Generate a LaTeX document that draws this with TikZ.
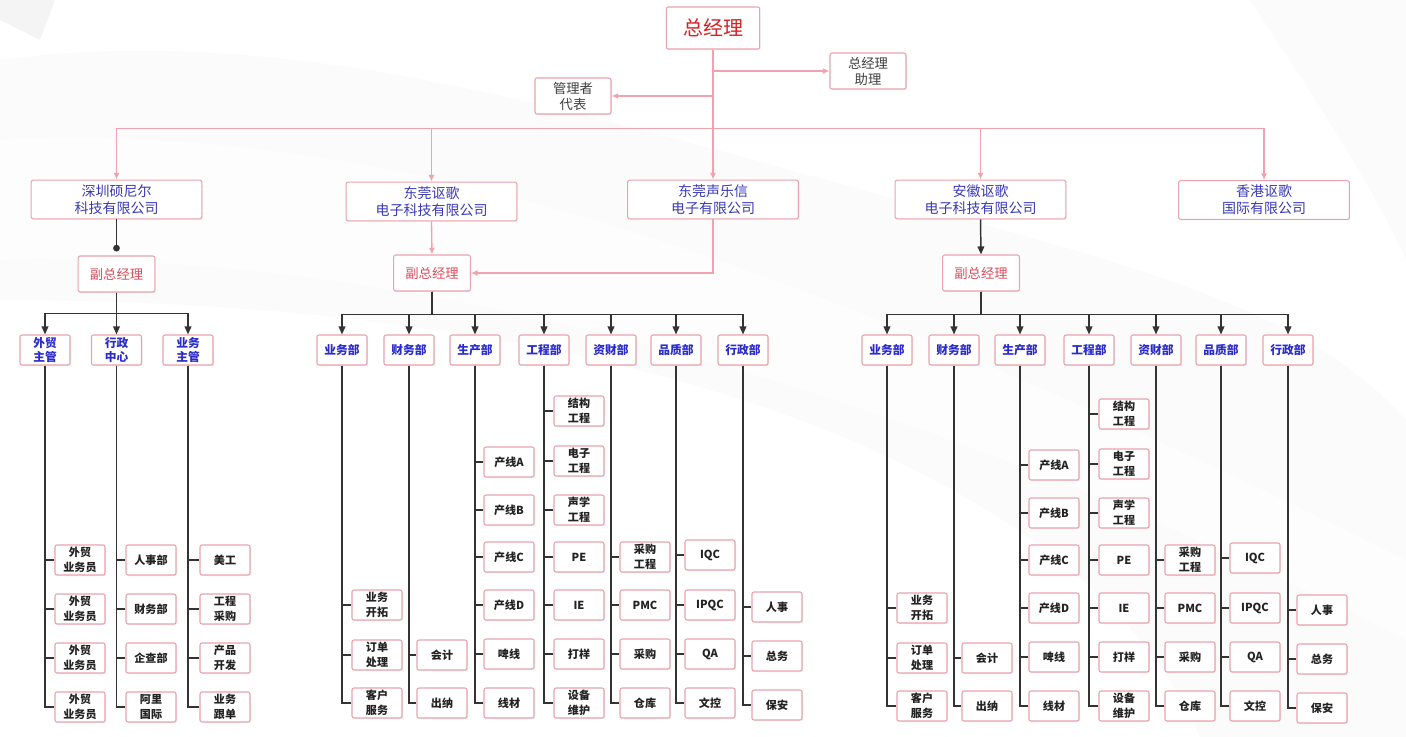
\documentclass[tikz,border=0pt]{standalone}
\usepackage{fontspec}
\newfontfamily\cjk{Noto Sans CJK SC}
\usetikzlibrary{arrows.meta,shadows}
\definecolor{pkline}{HTML}{F2A2AC}
\definecolor{pkbord}{HTML}{E9A3B0}
\definecolor{bluet}{HTML}{3A3AB8}
\definecolor{bluedept}{HTML}{2B2BCC}
\definecolor{vpred}{HTML}{D64F5C}
\definecolor{gmred}{HTML}{D42222}
\definecolor{greyt}{HTML}{404040}
\definecolor{subt}{HTML}{222222}
\definecolor{blkline}{HTML}{333333}
\tikzset{
  box/.style={draw=pkbord, line width=0.8pt, fill=white, rounded corners=1.5pt, align=center, inner sep=0pt,
     drop shadow={opacity=0.12, shadow xshift=0.8pt, shadow yshift=-0.8pt}},
  gmbox/.style={box, minimum width=70pt, minimum height=31.5pt, text=gmred, font=\cjk\fontsize{15}{17}\selectfont},
  grbox/.style={box, minimum width=57pt, minimum height=27pt, text=greyt, font=\cjk\fontsize{10}{12}\selectfont},
  cobox/.style={box, minimum width=128pt, minimum height=29pt, text=bluet, font=\cjk\fontsize{10.5}{12.5}\selectfont},
  vpbox/.style={box, minimum width=57.5pt, minimum height=27pt, text=vpred, font=\cjk\fontsize{10}{12}\selectfont},
  dept/.style={box, minimum width=37.5pt, minimum height=22.5pt, text=bluedept, font=\cjk\bfseries\fontsize{8.8}{10.5}\selectfont},
  sub/.style={box, minimum width=37.5pt, minimum height=22.5pt, text=subt, font=\cjk\bfseries\fontsize{8.3}{11}\selectfont},
  pk/.style={draw=pkline, line width=1pt, -{Latex[length=5pt,width=4.5pt]}},
  blk/.style={draw=blkline, line width=1.1pt},
  blka/.style={blk, -{Triangle[length=6pt,width=5pt]}},
}
\begin{document}
\begin{tikzpicture}[x=0.75pt,y=-0.75pt]
\useasboundingbox (0,0) rectangle (1406,737);
% background
\fill[white] (0,0) rectangle (1406,737);
\fill[gray!9] (0,0) -- (55,0) -- (40,40) -- (0,20) -- cycle;
\fill[gray!3] (0,60) .. controls (300,20) and (600,120) .. (900,200) .. controls (1100,260) and (1300,300) .. (1406,420) -- (1406,737) -- (1200,737) .. controls (1100,500) and (700,300) .. (0,300) -- cycle;
\fill[white, opacity=0.7] (0,140) .. controls (400,120) and (800,260) .. (1406,560) -- (1406,640) .. controls (900,380) and (400,250) .. (0,260) -- cycle;
\fill[gray!3] (1250,0) .. controls (1330,120) and (1380,200) .. (1406,260) -- (1406,0) -- cycle;

% top level
\node[gmbox] (gm) at (713,28) {总经理};
\node[grbox] (asst) at (868,71) {总经理\\助理};
\node[grbox] (rep) at (573,96) {管理者\\代表};

\node[cobox] (c1) at (116.5,199.5) {深圳硕尼尔\\科技有限公司};
\node[cobox] (c2) at (431.5,201.5) {东莞讴歌\\电子科技有限公司};
\node[cobox] (c3) at (713,199.5) {东莞声乐信\\电子有限公司};
\node[cobox] (c4) at (980.5,199.5) {安徽讴歌\\电子科技有限公司};
\node[cobox] (c5) at (1264,200) {香港讴歌\\国际有限公司};

\draw[pk] (gm.south |- asst.west) -- (asst.west);
\draw[pk] (gm.south |- rep.east) -- (rep.east);
\foreach \c in {c1,c2,c3,c4,c5}{
  \draw[pk] (gm.south) -- ++(0,79) -| (\c.north);
}

% ---------------- left group
\node[vpbox] (vp1) at (116.5,274) {副总经理};
\draw[blk,-{Circle[length=5pt]}] (c1.south) -- ([yshift=3pt]vp1.north);
\node[dept] (l1) at (45,350) {外贸\\主管};
\node[dept] (l2) at (116.5,350) {行政\\中心};
\node[dept] (l3) at (188,350) {业务\\主管};
\foreach \d in {l1,l2,l3}{ \draw[blka] (vp1.south) -- ++(0,21) -| (\d.north); }

\foreach \n/\t [count=\i] in {a/外贸\\业务员,b/外贸\\业务员,c/外贸\\业务员,d/外贸\\业务员}{
  \node[sub] (l1\n) at (80,{560+49*(\i-1)}) {\t};
  \draw[blk] (l1.south) |- (l1\n.west);
}
\foreach \n/\t [count=\i] in {a/人事部,b/财务部,c/企查部,d/阿里\\国际}{
  \node[sub] (l2\n) at (151,{560+49*(\i-1)}) {\t};
  \draw[blk] (l2.south) |- (l2\n.west);
}
\foreach \n/\t [count=\i] in {a/美工,b/工程\\采购,c/产品\\开发,d/业务\\跟单}{
  \node[sub] (l3\n) at (225,{560+49*(\i-1)}) {\t};
  \draw[blk] (l3.south) |- (l3\n.west);
}

% ---------------- middle & right groups
\foreach \g/\co/\vx/\dx/\dy in {m/c2/432/0/0, r/c4/981/545/3}{
  \node[vpbox] (vp\g) at (\vx,273) {副总经理};
  \foreach \k/\x/\t in {1/342/业务部,2/409/财务部,3/475/生产部,4/544/工程部,5/611/资财部,6/676/品质部,7/743/行政部}{
    \node[dept] (\g\k) at ({\x+\dx},350) {\t};
    \draw[blka] (vp\g.south) -- ++(0,23) -| (\g\k.north);
  }
  % 业务部
  \foreach \n/\y/\t in {a/605/业务\\开拓,b/655/订单\\处理,c/703/客户\\服务}{
    \node[sub] (\g1\n) at ({342+\dx+35},{\y+\dy}) {\t};
    \draw[blk] (\g1.south) |- (\g1\n.west);
  }
  % 财务部
  \foreach \n/\y/\t in {a/655/会计,b/703/出纳}{
    \node[sub] (\g2\n) at ({409+\dx+33},{\y+\dy}) {\t};
    \draw[blk] (\g2.south) |- (\g2\n.west);
  }
  % 生产部
  \foreach \n/\y/\t in {a/462/产线A,b/510/产线B,c/557/产线C,d/605/产线D,e/654/啤线,f/703/线材}{
    \node[sub] (\g3\n) at ({475+\dx+34},{\y+\dy}) {\t};
    \draw[blk] (\g3.south) |- (\g3\n.west);
  }
  % 工程部
  \foreach \n/\y/\t in {a/411/结构\\工程,b/461/电子\\工程,c/510/声学\\工程,d/557/PE,e/605/IE,f/654/打样,g/703/设备\\维护}{
    \node[sub] (\g4\n) at ({544+\dx+35},{\y+\dy}) {\t};
    \draw[blk] (\g4.south) |- (\g4\n.west);
  }
  % 资财部
  \foreach \n/\y/\t in {a/557/采购\\工程,b/605/PMC,c/654/采购,d/703/仓库}{
    \node[sub] (\g5\n) at ({611+\dx+34},{\y+\dy}) {\t};
    \draw[blk] (\g5.south) |- (\g5\n.west);
  }
  % 品质部
  \foreach \n/\y/\t in {a/555/IQC,b/605/IPQC,c/654/QA,d/703/文控}{
    \node[sub] (\g6\n) at ({676+\dx+34},{\y+\dy}) {\t};
    \draw[blk] (\g6.south) |- (\g6\n.west);
  }
  % 行政部
  \foreach \n/\y/\t in {a/607/人事,b/656/总务,c/705/保安}{
    \node[sub] (\g7\n) at ({743+\dx+34},{\y+\dy}) {\t};
    \draw[blk] (\g7.south) |- (\g7\n.west);
  }
}
\draw[pk] (c2.south) -- (vpm.north);
\draw[pk] (c3.south) |- (vpm.east);
\draw[blka] (c4.south) -- (vpr.north);
\end{tikzpicture}
\end{document}
